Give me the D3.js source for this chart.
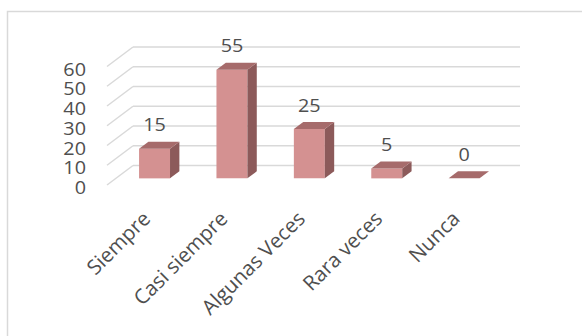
<!DOCTYPE html>
<html>
<head>
<meta charset="utf-8">
<script src="https://cdn.jsdelivr.net/npm/d3@7"></script>
<style>
  body { margin: 0; background: #fff; }
  text { font-family: "Open Sans", sans-serif; fill: #4f4f4f; }
</style>
</head>
<body>
<svg></svg>
<script>
  // Chart data
  const categories = ["Siempre", "Casi siempre", "Algunas Veces", "Rara veces", "Nunca"];
  const values = [15, 55, 25, 5, 0];
  const tickValues = [0, 10, 20, 30, 40, 50, 60];

  const w = 582;
  const h = 336;

  const svg = d3.select("svg")
    .attr("width", w)
    .attr("height", h);

  // outer frame
  svg.append("rect")
    .attr("x", 7.5)
    .attr("y", 11.5)
    .attr("width", 700)
    .attr("height", 400)
    .attr("fill", "#fff")
    .attr("stroke", "#d9d9d9")
    .attr("stroke-width", 1.5);

  // 3D set-up: front plane origin and depth offset of the back wall
  const ox = 107, oy = 185;
  const depthX = 26, depthY = 19.5;
  const plotW = 387;

  const x = d3.scaleBand()
    .domain(categories)
    .range([0, plotW])
    .paddingInner(0.6)
    .paddingOuter(0.3);

  const y = d3.scaleLinear()
    .domain([0, 60])
    .range([0, 118.5]);

  const proj = (px, v, z) => [ox + px + z * depthX, oy - y(v) - z * depthY];

  const grid = svg.append("g").attr("class", "grid");

  // back wall gridlines
  grid.selectAll("line.back")
    .data(tickValues)
    .enter()
    .append("line")
    .attr("class", "back")
    .attr("x1", (d) => proj(0, d, 1)[0])
    .attr("y1", (d) => proj(0, d, 1)[1])
    .attr("x2", (d) => proj(plotW, d, 1)[0])
    .attr("y2", (d) => proj(plotW, d, 1)[1])
    .attr("stroke", "#d9d9d9")
    .attr("stroke-width", 1.5);

  // side wall diagonals
  grid.selectAll("line.side")
    .data(tickValues)
    .enter()
    .append("line")
    .attr("class", "side")
    .attr("x1", (d) => proj(0, d, 0)[0])
    .attr("y1", (d) => proj(0, d, 0)[1])
    .attr("x2", (d) => proj(0, d, 1)[0])
    .attr("y2", (d) => proj(0, d, 1)[1])
    .attr("stroke", "#d9d9d9")
    .attr("stroke-width", 1.5);

  // value axis labels (slightly widened like the original)
  svg.append("g")
    .selectAll("text")
    .data(tickValues)
    .enter()
    .append("text")
    .attr("transform", (d) => {
      const p = proj(0, d, 0);
      return `translate(${p[0] - 21},${p[1] + 2.5}) scale(1.1,1)`;
    })
    .attr("text-anchor", "end")
    .attr("dominant-baseline", "central")
    .style("font-size", "18px")
    .text((d) => d);

  // bars
  const z0 = 0.34, z1 = 0.70;
  const pts = (arr) => arr.map((p) => p.join(",")).join(" ");

  const bars = svg.append("g")
    .selectAll("g")
    .data(categories.map((c, i) => ({ cat: c, value: values[i] })))
    .enter()
    .append("g");

  bars.append("polygon")
    .attr("fill", "#d49191")
    .attr("points", (d) => {
      const x0 = x(d.cat), x1 = x0 + x.bandwidth();
      return pts([proj(x0, 0, z0), proj(x1, 0, z0), proj(x1, d.value, z0), proj(x0, d.value, z0)]);
    });

  bars.append("polygon")
    .attr("fill", "#8c5a5a")
    .attr("points", (d) => {
      const x1 = x(d.cat) + x.bandwidth();
      return pts([proj(x1, 0, z0), proj(x1, 0, z1), proj(x1, d.value, z1), proj(x1, d.value, z0)]);
    });

  bars.append("polygon")
    .attr("fill", "#a66b6b")
    .attr("points", (d) => {
      const x0 = x(d.cat), x1 = x0 + x.bandwidth();
      return pts([proj(x0, d.value, z0), proj(x1, d.value, z0), proj(x1, d.value, z1), proj(x0, d.value, z1)]);
    });

  // data labels
  bars.append("text")
    .attr("transform", (d) => {
      const px = proj(x(d.cat) + x.bandwidth() / 2, d.value, z0)[0];
      const py = proj(0, d.value, z1)[1] - 17;
      return `translate(${px},${py}) scale(1.1,1)`;
    })
    .attr("text-anchor", "middle")
    .attr("dominant-baseline", "central")
    .style("font-size", "18px")
    .text((d) => d.value);

  // category labels
  svg.append("g")
    .selectAll("text")
    .data(categories)
    .enter()
    .append("text")
    .attr("transform", (d) => {
      const cx = proj(x(d) + x.bandwidth() / 2, 0, z0)[0];
      return `translate(${cx - 3},${oy + 35}) rotate(-45)`;
    })
    .attr("text-anchor", "end")
    .style("font-size", "20.5px")
    .text((d) => d);
</script>
</body>
</html>
